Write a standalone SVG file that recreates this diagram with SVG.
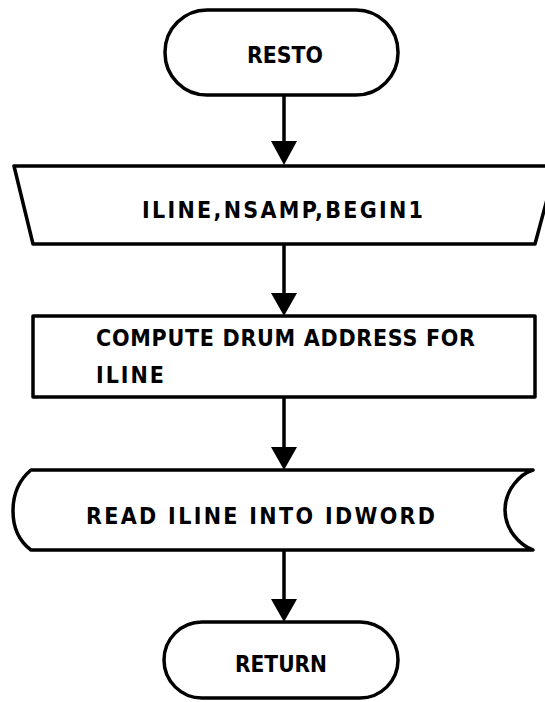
<svg xmlns="http://www.w3.org/2000/svg" width="545" height="702" viewBox="0 0 545 702">
  <defs>
    <style>
      .shape { fill: #ffffff; stroke: #000000; stroke-width: 3.5; stroke-linejoin: round; stroke-linecap: round; }
      .edge { fill: none; stroke: #000000; stroke-width: 3.5; }
      .head { fill: #000000; stroke: none; }
      .lbl { font-family: "DejaVu Sans Condensed", "Liberation Sans Narrow", "Liberation Sans", sans-serif; font-weight: bold; font-size: 23px; fill: #000000; }
    </style>
  </defs>
  <rect x="0" y="0" width="545" height="702" fill="#ffffff"/>

  <g id="connectors">
    <line class="edge" x1="284" y1="95" x2="284" y2="145"/>
    <polygon class="head" points="271,141 297,141 284,165"/>
    <line class="edge" x1="284" y1="244" x2="284" y2="296"/>
    <polygon class="head" points="271,293 297,293 284,316"/>
    <line class="edge" x1="284" y1="397" x2="284" y2="450"/>
    <polygon class="head" points="271,447 297,447 284,470"/>
    <line class="edge" x1="284" y1="550" x2="284" y2="602"/>
    <polygon class="head" points="271,599 297,599 284,622"/>
  </g>

  <g id="resto">
    <rect class="shape" x="165" y="10" width="233" height="85" rx="42" ry="42"/>
    <text class="lbl" x="247" y="63" textLength="76" lengthAdjust="spacingAndGlyphs">RESTO</text>
  </g>

  <g id="input">
    <polygon class="shape" points="14,166 556,166 535,244 33,244"/>
    <text class="lbl" x="142" y="218" textLength="281" lengthAdjust="spacing">ILINE,NSAMP,BEGIN1</text>
  </g>

  <g id="compute">
    <rect class="shape" x="33" y="316" width="502" height="81"/>
    <text class="lbl" x="96" y="346" textLength="379" lengthAdjust="spacing">COMPUTE DRUM ADDRESS FOR</text>
    <text class="lbl" x="96" y="383" textLength="68" lengthAdjust="spacing">ILINE</text>
  </g>

  <g id="read">
    <path class="shape" d="M 533,470 L 31,470 C 19,480 13,495 13,511 C 13,527 19,541 31,550 L 533,550 C 520,545 505,530 505,510 C 505,490 520,474 533,470 Z"/>
    <text class="lbl" x="86" y="524" textLength="349" lengthAdjust="spacing">READ ILINE INTO IDWORD</text>
  </g>

  <g id="return">
    <rect class="shape" x="164" y="622" width="234" height="76" rx="38" ry="38"/>
    <text class="lbl" x="235" y="672" textLength="92" lengthAdjust="spacingAndGlyphs">RETURN</text>
  </g>
</svg>
